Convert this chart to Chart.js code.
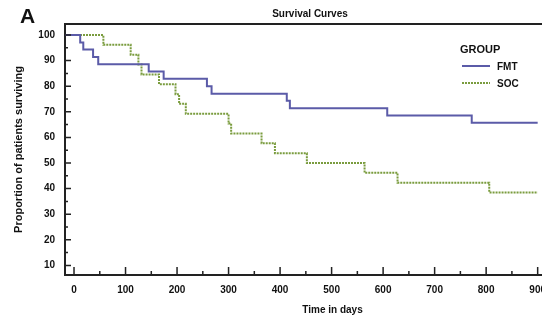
<!DOCTYPE html>
<html lang="en">
<head>
<meta charset="utf-8"/>
<title>Survival Curves</title>
<script src="https://cdn.jsdelivr.net/npm/chart.js"></script>
<style>
    html, body { margin: 0; padding: 0; background: #fff; overflow: hidden; }
    #wrap { width: 542px; height: 319px; overflow: hidden; position: relative; }
    canvas { display: block; }
</style>
</head>
<body>
<div id="wrap">
    <canvas id="myChart" width="600" height="319"></canvas>
</div>
<script>
    // Kaplan-Meier steps (time in days, % surviving after the event)
    var fmtDays = [0, 12, 18, 37, 47, 145, 174, 258, 267, 413, 419, 608, 772, 900];
    var fmtSurv = [100, 97.1, 94.3, 91.4, 88.6, 85.7, 82.9, 80.0, 77.1, 74.3, 71.4, 68.6, 65.7, 65.7];

    var socDays = [0, 57, 110, 125, 131, 165, 197, 204, 217, 300, 305, 364, 390, 452, 564, 628, 806, 900];
    var socSurv = [100, 96.2, 92.3, 88.5, 84.6, 80.8, 76.9, 73.1, 69.2, 65.4, 61.5, 57.7, 53.8, 50.0, 46.2, 42.3, 38.5, 38.5];

    var xTicks = [0, 100, 200, 300, 400, 500, 600, 700, 800, 900];
    var yTicks = [10, 20, 30, 40, 50, 60, 70, 80, 90, 100];

    var X_MIN = -17.5, X_MAX = 1021;
    var Y_MIN = 6.25, Y_MAX = 104.3;

    var FMT_COLOR = '#5b5ba8';
    var SOC_COLOR = '#7a9c3e';
    var FONT = "'Liberation Sans', Arial, sans-serif";

    function toPoints(days, surv) {
        // the curve is drawn from the left axis edge
        var pts = [{x: X_MIN, y: surv[0]}];
        for (var i = 0; i < days.length; i++) {
            pts.push({x: days[i], y: surv[i]});
        }
        return pts;
    }

    var decorations = {
        id: 'decorations',
        afterDraw: function (chart) {
            var ctx = chart.ctx, a = chart.chartArea;
            var x = chart.scales.x, y = chart.scales.y;
            ctx.save();
            ctx.strokeStyle = '#222';

            // top frame line
            ctx.lineWidth = 2;
            ctx.beginPath();
            ctx.moveTo(a.left - 1, a.top);
            ctx.lineTo(a.right, a.top);
            ctx.stroke();

            // inward tick marks, major + minor
            ctx.lineWidth = 1.5;
            ctx.beginPath();
            yTicks.forEach(function (v) {
                var py = y.getPixelForValue(v);
                ctx.moveTo(a.left, py); ctx.lineTo(a.left + 6, py);
                if (v - 5 > Y_MIN) {
                    var pm = y.getPixelForValue(v - 5);
                    ctx.moveTo(a.left, pm); ctx.lineTo(a.left + 3, pm);
                }
            });
            xTicks.concat([1000]).forEach(function (d) {
                var px = x.getPixelForValue(d);
                ctx.moveTo(px, a.bottom); ctx.lineTo(px, a.bottom - 8);
                var pm = x.getPixelForValue(d + 50);
                ctx.moveTo(pm, a.bottom); ctx.lineTo(pm, a.bottom - 4);
            });
            ctx.stroke();

            // panel letter and title
            ctx.fillStyle = '#111';
            ctx.textBaseline = 'alphabetic';
            ctx.textAlign = 'left';
            ctx.font = 'bold 21px ' + FONT;
            ctx.fillText('A', 20, 23);
            ctx.font = 'bold 10px ' + FONT;
            ctx.textAlign = 'center';
            ctx.fillText('Survival Curves', 310, 17);

            // legend inside the plot
            ctx.textAlign = 'left';
            ctx.font = 'bold 11px ' + FONT;
            ctx.fillText('GROUP', 460, 53);
            ctx.font = 'bold 10px ' + FONT;
            ctx.fillText('FMT', 497, 70);
            ctx.fillText('SOC', 497, 87);
            ctx.lineWidth = 2;
            ctx.strokeStyle = FMT_COLOR;
            ctx.beginPath(); ctx.moveTo(462, 66); ctx.lineTo(490, 66); ctx.stroke();
            ctx.strokeStyle = SOC_COLOR;
            ctx.setLineDash([2, 1]);
            ctx.beginPath(); ctx.moveTo(462, 83); ctx.lineTo(490, 83); ctx.stroke();
            ctx.restore();
        }
    };

    var ctx = document.getElementById('myChart');
    var mychart = new Chart(ctx, {
        type: 'line',
        data: {
            datasets: [
                {
                    label: 'FMT',
                    data: toPoints(fmtDays, fmtSurv),
                    stepped: 'before',
                    borderColor: FMT_COLOR,
                    borderWidth: 2,
                    pointRadius: 0,
                    fill: false
                },
                {
                    label: 'SOC',
                    data: toPoints(socDays, socSurv),
                    stepped: 'before',
                    borderColor: SOC_COLOR,
                    borderWidth: 2,
                    borderDash: [2, 1],
                    pointRadius: 0,
                    fill: false
                }
            ]
        },
        options: {
            responsive: false,
            animation: false,
            layout: { padding: { top: 24, left: 0, right: 0, bottom: 0 } },
            plugins: {
                legend: { display: false },
                title: { display: false },
                tooltip: { enabled: false }
            },
            scales: {
                x: {
                    type: 'linear',
                    min: X_MIN,
                    max: X_MAX,
                    afterBuildTicks: function (scale) {
                        scale.ticks = xTicks.map(function (v) { return {value: v}; });
                    },
                    afterFit: function (scale) { scale.height = 44; },
                    grid: { display: false, drawTicks: false },
                    border: { display: true, color: '#222', width: 2 },
                    ticks: {
                        color: '#111',
                        padding: 9,
                        maxRotation: 0,
                        autoSkip: false,
                        font: { family: FONT, size: 10, weight: 'bold' }
                    },
                    title: {
                        display: true,
                        text: 'Time in days',
                        color: '#111',
                        padding: { top: 2, bottom: 3 },
                        font: { family: FONT, size: 10, weight: 'bold' }
                    }
                },
                y: {
                    type: 'linear',
                    min: Y_MIN,
                    max: Y_MAX,
                    afterBuildTicks: function (scale) {
                        scale.ticks = yTicks.map(function (v) { return {value: v}; });
                    },
                    afterFit: function (scale) { scale.width = 65; },
                    grid: { display: false, drawTicks: false },
                    border: { display: true, color: '#222', width: 2 },
                    ticks: {
                        color: '#111',
                        padding: 10,
                        autoSkip: false,
                        font: { family: FONT, size: 10, weight: 'bold' }
                    },
                    title: {
                        display: true,
                        text: 'Proportion of patients surviving',
                        color: '#111',
                        padding: { top: 12, bottom: 0 },
                        font: { family: FONT, size: 11, weight: 'bold' }
                    }
                }
            }
        },
        plugins: [decorations]
    });
</script>
</body>
</html>
